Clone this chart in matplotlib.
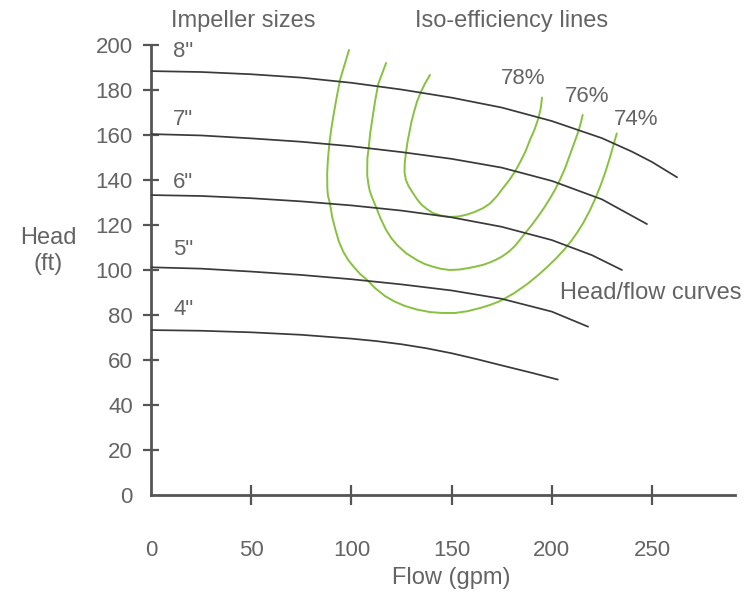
import matplotlib
matplotlib.use("Agg")
import matplotlib.pyplot as plt

plt.rcParams['font.family'] = ['Liberation Sans', 'DejaVu Sans']

# ---- data ----
flow_ticks = [0, 50, 100, 150, 200, 250]
head_ticks = [0, 20, 40, 60, 80, 100, 120, 140, 160, 180, 200]

impeller_labels = ['8"', '7"', '6"', '5"', '4"']

q_8in = [0, 25, 50, 75, 100, 125, 150, 175, 200, 225, 240, 250, 262.5]
h_8in = [188.4, 188.0, 187.0, 185.5, 183.2, 180.2, 176.6, 172.2, 166.2, 158.6, 152.6, 148.0, 141.2]

q_7in = [0, 25, 50, 75, 100, 125, 150, 175, 200, 225, 247.5]
h_7in = [160.4, 159.8, 158.5, 157.0, 155.0, 152.4, 149.4, 145.5, 139.6, 131.4, 120.4]

q_6in = [0, 25, 50, 75, 100, 125, 150, 175, 200, 220, 235]
h_6in = [133.3, 132.9, 131.9, 130.5, 128.7, 126.4, 123.4, 119.2, 113.3, 106.6, 100.0]

q_5in = [0, 25, 50, 75, 100, 125, 150, 175, 200, 218.1]
h_5in = [101.2, 100.6, 99.3, 97.8, 95.9, 93.6, 90.9, 87.2, 81.5, 74.8]

q_4in = [0, 25, 50, 75, 100, 112.5, 125, 137.5, 150, 162.5, 175, 190, 203]
h_4in = [73.3, 73.0, 72.3, 71.2, 69.5, 68.4, 67.0, 65.2, 63.0, 60.4, 57.6, 54.3, 51.3]

eff_labels = ['78%', '76%', '74%']

q_eff78 = [139.2, 136.8, 134.6, 132.8, 131.3, 130.0, 129.0, 128.0, 127.2, 126.6,
           126.5, 127.2, 128.5, 130.7, 132.8, 135.0, 137.8, 140.7, 144.5, 149.2,
           153.5, 157.5, 161.5, 165.7, 169.2, 172.6, 175.8, 178.8, 181.6, 184.5,
           187.0, 189.1, 191.4, 193.3, 194.5, 195.1]
h_eff78 = [186.7, 183.0, 179.0, 175.0, 170.5, 166.0, 161.5, 157.0, 152.0, 147.5,
           143.5, 140.0, 137.3, 134.2, 131.4, 129.0, 127.0, 125.3, 124.2, 123.6,
           123.8, 124.6, 125.8, 127.5, 129.6, 132.8, 136.6, 140.0, 143.7, 148.5,
           153.0, 157.8, 162.5, 167.4, 172.0, 176.6]

q_eff76 = [117.3, 113.4, 111.8, 110.6, 109.4, 108.6, 108.0, 107.9, 107.9, 108.5,
           109.2, 110.2, 112.5, 114.5, 117.3, 119.8, 122.8, 127.2, 132.7, 136.5,
           140.5, 144.8, 149.2, 153.8, 158.0, 161.9, 165.7, 169.2, 172.2, 175.0,
           178.5, 181.5, 184.0, 186.6, 190.0, 193.3, 196.4, 199.2, 201.8, 204.0,
           206.5, 208.7, 211.0, 213.2, 214.4, 215.4]
h_eff76 = [192.0, 182.7, 175.0, 168.0, 161.0, 154.1, 150.0, 146.0, 142.0, 138.0,
           135.0, 132.5, 127.5, 123.0, 117.8, 114.3, 111.1, 107.5, 104.4, 102.7,
           101.5, 100.5, 100.0, 100.2, 100.8, 101.5, 102.3, 103.4, 104.6, 105.9,
           108.1, 110.6, 113.3, 116.3, 120.0, 124.0, 128.0, 132.0, 136.0, 140.0,
           145.0, 150.4, 156.0, 161.5, 165.2, 168.9]

q_eff74 = [98.8, 96.5, 94.3, 92.7, 91.3, 90.0, 89.0, 88.3, 87.9, 88.0, 88.3, 89.3,
           90.4, 92.0, 93.8, 96.0, 98.6, 101.5, 104.4, 107.8, 112.0, 116.8, 121.5,
           126.7, 132.8, 139.2, 145.5, 151.7, 158.0, 164.2, 169.3, 174.2, 181.0,
           187.5, 193.0, 198.0, 202.5, 206.3, 209.6, 212.7, 215.6, 219.0, 222.1, 224.5,
           226.5, 229.0, 231.0, 232.4]
h_eff74 = [197.8, 191.0, 184.4, 177.0, 170.0, 163.0, 156.3, 149.5, 143.0, 136.0, 133.0, 129.6,
           123.5, 118.0, 112.5, 108.0, 104.2, 101.0, 98.2, 95.6, 91.8, 88.4, 86.0,
           84.0, 82.4, 81.3, 80.9, 80.9, 81.7, 83.1, 84.5, 86.2, 89.6,
           93.6, 97.6, 101.6, 105.5, 109.2, 112.8, 116.7, 120.8, 126.5, 132.6, 138.0,
           143.0, 150.0, 156.3, 160.7]

# ---- drawing ----
text_col = '#646464'
axis_col = '#555555'
curve_col = '#3a3a3a'
green = '#88c040'

fig = plt.figure(figsize=(7.48, 5.92), dpi=100)
fig.patch.set_facecolor('white')
ax = fig.add_axes([151 / 748, 97 / 592, 584 / 748, 450 / 592])
ax.set_xlim(0, 291.4)
ax.set_ylim(0, 200)

head_curves = [(q_8in, h_8in), (q_7in, h_7in), (q_6in, h_6in), (q_5in, h_5in), (q_4in, h_4in)]
for q, h in head_curves:
    ax.plot(q, h, color=curve_col, lw=1.25, solid_capstyle='round',
            solid_joinstyle='round', zorder=3)

for q, h in [(q_eff78, h_eff78), (q_eff76, h_eff76), (q_eff74, h_eff74)]:
    ax.plot(q, h, color=green, lw=1.4, solid_capstyle='round',
            solid_joinstyle='round', zorder=2)

# impeller size labels
label_y = [194.7, 164.4, 136.4, 106.7, 80.0]
for lab, yy in zip(impeller_labels, label_y):
    ax.text(11, yy, lab, fontsize=16, color=text_col, ha='left', va='baseline')

# efficiency labels
eff_pos = [(185.6, 185.3), (217.8, 177.1), (242.0, 166.7)]
for lab, (xx, yy) in zip(eff_labels, eff_pos):
    ax.text(xx, yy, lab, fontsize=16, color=text_col, ha='center', va='center')

ax.text(249.5, 89.8, 'Head/flow curves', fontsize=17, color=text_col,
        ha='center', va='center')
ax.text(45.9, 208, 'Impeller sizes', fontsize=17, color=text_col,
        ha='center', va='baseline', clip_on=False)
ax.text(180.1, 208, 'Iso-efficiency lines', fontsize=17, color=text_col,
        ha='center', va='baseline', clip_on=False)

fig.text(48 / 748, 1 - 251 / 592, 'Head\n(ft)', fontsize=17, color=text_col,
         ha='center', va='center', linespacing=1.25)
fig.text(451 / 748, 1 - 578 / 592, 'Flow (gpm)', fontsize=17, color=text_col,
         ha='center', va='center')

# axes styling
for s in ['top', 'right']:
    ax.spines[s].set_visible(False)
for s in ['left', 'bottom']:
    ax.spines[s].set_color(axis_col)
    ax.spines[s].set_linewidth(2.0)

ax.set_xticks(flow_ticks)
ax.set_xticklabels([str(v) for v in flow_ticks])
ax.set_yticks(head_ticks)
ax.set_yticklabels([str(v) for v in head_ticks])

ax.tick_params(axis='x', direction='inout', length=15, width=1.6, color=axis_col,
               labelsize=16, labelcolor=text_col, pad=25)
ax.tick_params(axis='y', direction='inout', length=12, width=1.6, color=axis_col,
               labelsize=16, labelcolor=text_col, pad=7)

ax.xaxis.get_major_ticks()[0].tick1line.set_visible(False)
ax.yaxis.get_major_ticks()[0].tick1line.set_visible(False)
ax.patch.set_visible(False)

fig.savefig('out.png', dpi=100, facecolor='white')
